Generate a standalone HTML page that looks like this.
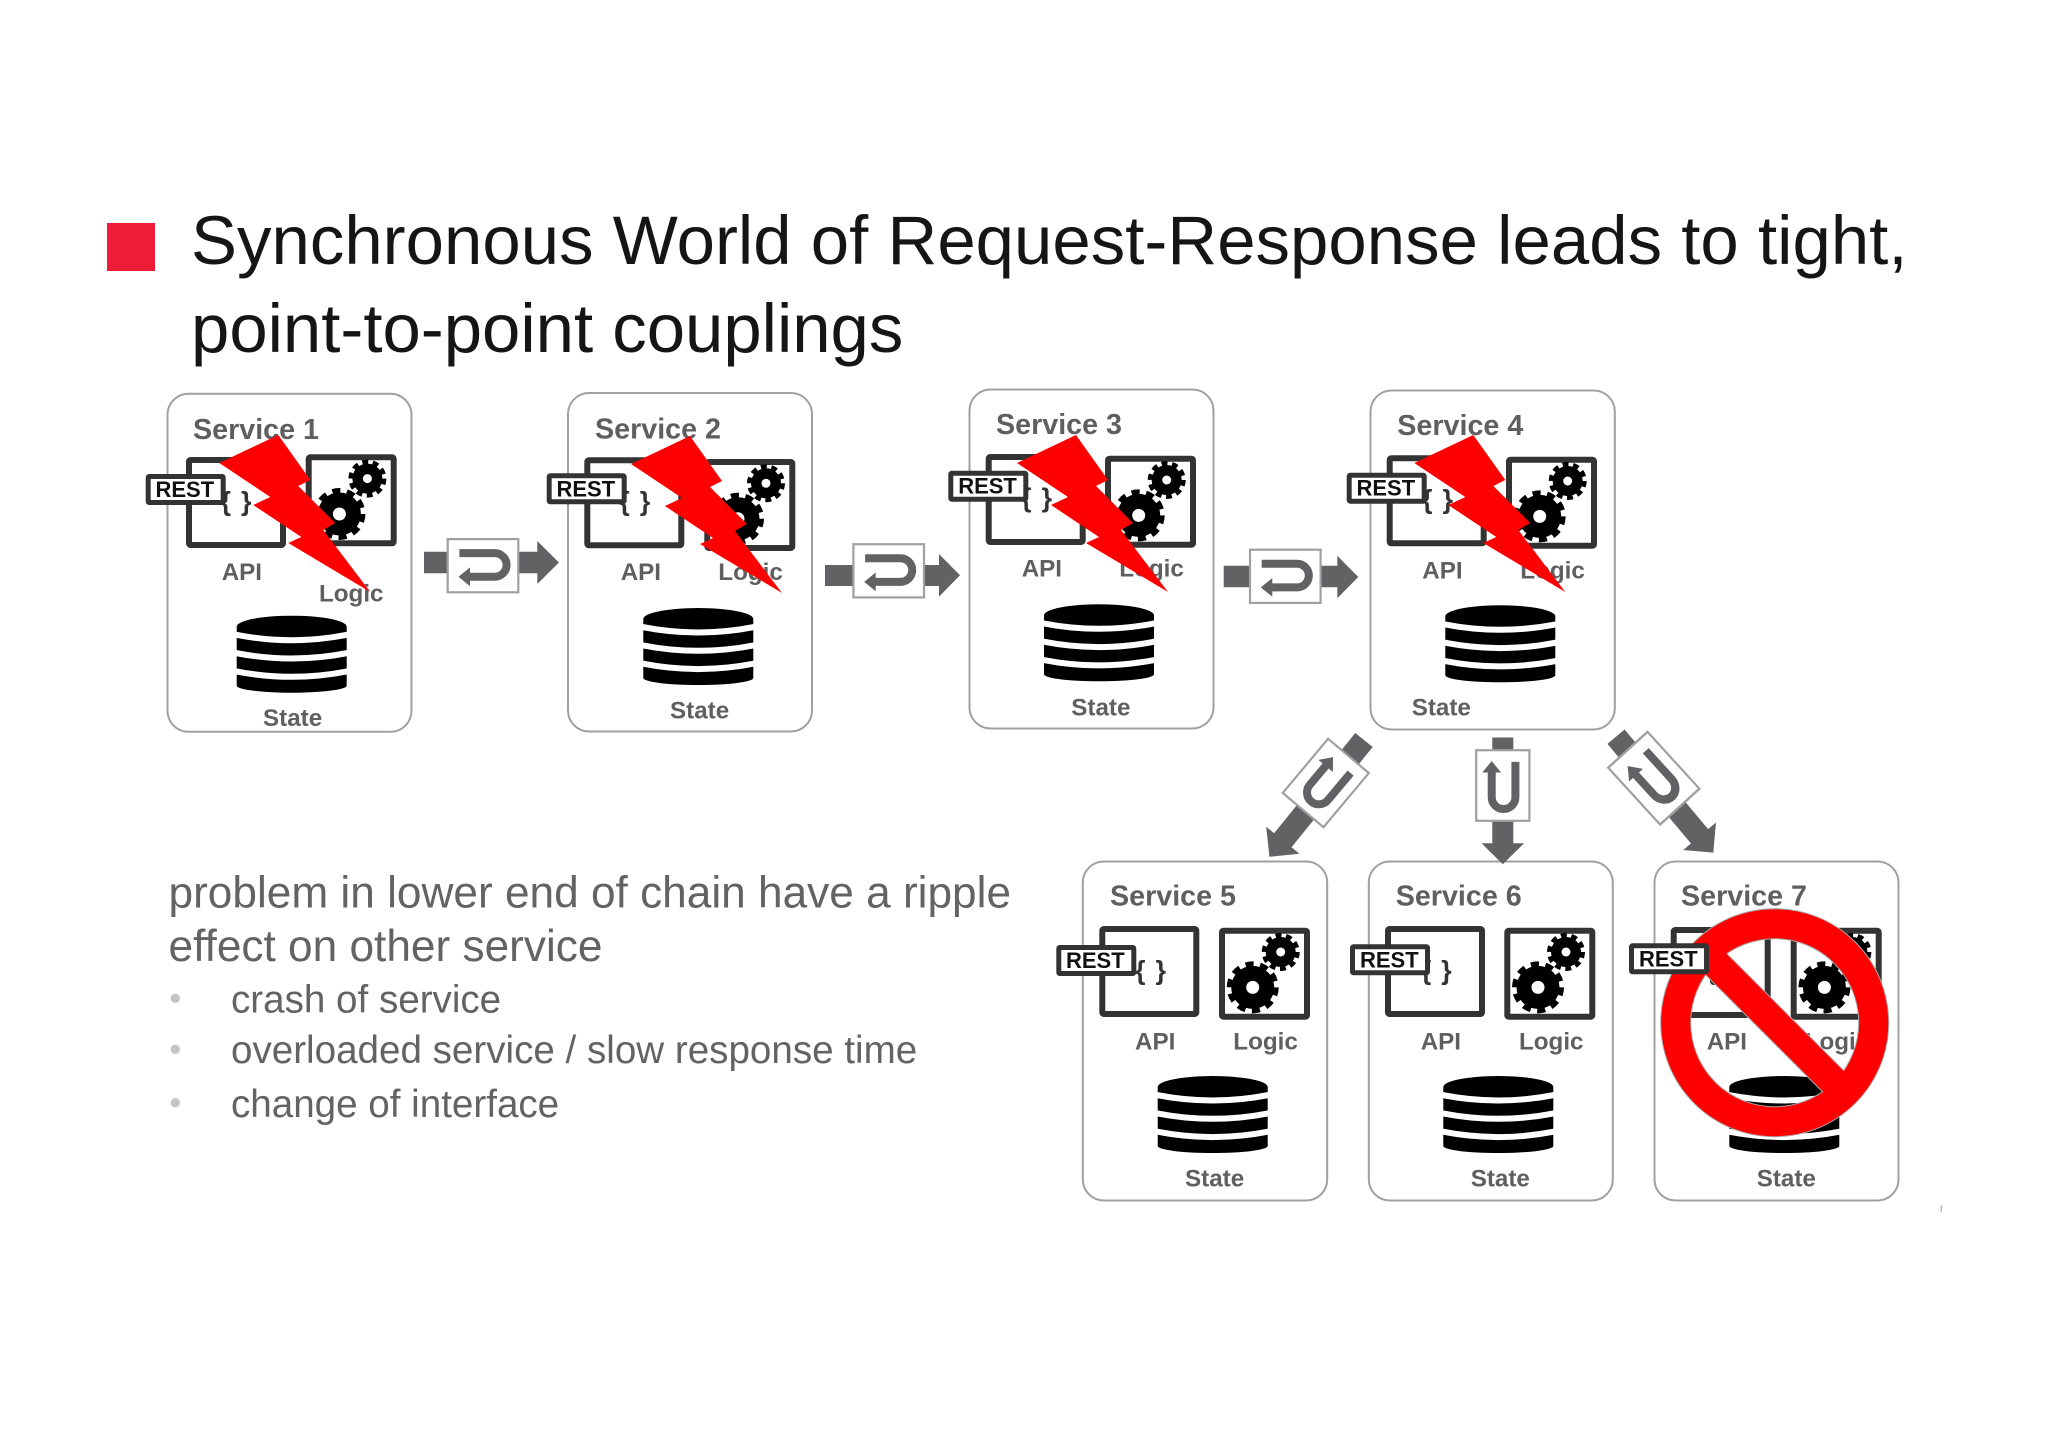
<!DOCTYPE html>
<html><head><meta charset="utf-8"><style>
html,body{margin:0;padding:0;background:#fff}
svg{display:block}
text{font-family:"Liberation Sans",sans-serif}
.t{font-weight:bold;font-size:28.7px;fill:#5f5f62}
.l{font-weight:bold;font-size:24.2px;fill:#5f5f62}
.r{font-weight:bold;font-size:22px;fill:#111}
.b{font-size:27px;font-weight:bold;fill:#333}
.h{font-size:68.9px;fill:#151515}
.p{font-size:44.2px;fill:#636366}
.q{font-size:38.6px;fill:#636366}
.box{fill:#fff;stroke:#a0a0a0;stroke-width:2}
</style></head><body>
<svg width="2048" height="1447" viewBox="0 0 2048 1447" xmlns="http://www.w3.org/2000/svg">
<defs>
<g id="api"><rect x="3" y="3" width="94" height="85" rx="1.5" fill="#fff" stroke="#333" stroke-width="6"/></g>
<g id="logic"><rect x="3" y="3" width="85" height="86" rx="1.5" fill="#fff" stroke="#333" stroke-width="6"/>
<circle cx="33.7" cy="59.7" r="21.5" fill="#000"/><circle cx="33.7" cy="59.7" r="23" fill="none" stroke="#000" stroke-width="6" stroke-dasharray="8 6.45"/><circle cx="33.7" cy="59.7" r="6.5" fill="#fff"/>
<circle cx="61.7" cy="24.3" r="15" fill="#000"/><circle cx="61.7" cy="24.3" r="16.5" fill="none" stroke="#000" stroke-width="5" stroke-dasharray="5.8 4.57"/><circle cx="61.7" cy="24.3" r="4.5" fill="#fff"/></g>
<g id="restbox"><rect x="2.5" y="2.5" width="75" height="26" rx="1" fill="#fff" stroke="#333" stroke-width="5"/></g>
<g id="db"><path d="M0 11A55 11 0 0 1 110 11V70A55 7 0 0 1 0 70Z" fill="#000"/>
<path d="M-1 19Q55 30 111 19M-1 37.3Q55 48.3 111 37.3M-1 55.6Q55 66.6 111 55.6" fill="none" stroke="#fff" stroke-width="6"/></g>
<g id="bolt"><polygon points="0,0 32,45 20,51 57,88 45,95 92,157 10,108 23,102 -25,70 -8,62 -59,28" fill="#f00"/></g>
<g id="frame"><rect x="-35.3" y="-26.6" width="70.6" height="53.2" fill="#fff" stroke="#a0a0a0" stroke-width="2.2"/>
<path d="M-23.6 -12.6H11.7A11.85 11.85 0 0 1 11.7 11.1H-14" fill="none" stroke="#626264" stroke-width="8"/>
<polygon points="-24.5,11.1 -13,1.7 -13,20.5" fill="#626264"/></g>
</defs>
<rect width="2048" height="1447" fill="#fff"/>

<rect x="107" y="223" width="48" height="48" fill="#ee1c36"/>
<text class="h" x="191" y="264" textLength="1716.5">Synchronous World of Request-Response leads to tight,</text>
<text class="h" x="191" y="352">point-to-point couplings</text>

<text class="p" x="168.5" y="907.5">problem in lower end of chain have a ripple</text>
<text class="p" x="168.5" y="961">effect on other service</text>
<circle cx="175.3" cy="998.3" r="4.7" fill="#c4c4c6"/>
<circle cx="175.3" cy="1049.3" r="4.7" fill="#c4c4c6"/>
<circle cx="175.3" cy="1102.7" r="4.7" fill="#c4c4c6"/>
<text class="q" x="231" y="1012.7">crash of service</text>
<text class="q" x="231" y="1063">overloaded service / slow response time</text>
<text class="q" x="231" y="1117">change of interface</text>

<!-- Service 1 -->
<rect class="box" x="167.5" y="393.8" width="244" height="338" rx="21"/>
<text class="t" x="193" y="439">Service 1</text>
<use href="#api" x="186" y="457"/><use href="#logic" x="305.7" y="454.3"/>
<text class="b" x="220.5" y="510.5" textLength="31">{ }</text>
<use href="#restbox" x="145.7" y="474"/><text class="r" x="155.5" y="497">REST</text>
<text class="l" x="221.7" y="580">API</text><text class="l" x="319" y="601.7">Logic</text>
<use href="#db" x="236.7" y="615.7"/><text class="l" x="263" y="726">State</text>
<use href="#bolt" x="278.3" y="435"/>

<!-- Service 2 -->
<rect class="box" x="568" y="393" width="244" height="338.5" rx="21"/>
<text class="t" x="595" y="438.5">Service 2</text>
<use href="#api" x="584.3" y="457.3"/><use href="#logic" x="704.3" y="459"/>
<text class="b" x="619.3" y="510.5" textLength="31">{ }</text>
<use href="#restbox" x="546.7" y="473.3"/><text class="r" x="556.5" y="496.3">REST</text>
<text class="l" x="620.7" y="580">API</text><text class="l" x="718.3" y="580">Logic</text>
<use href="#db" x="643.3" y="608"/><text class="l" x="670" y="718.5">State</text>
<use href="#bolt" x="690" y="436"/>

<!-- Service 3 -->
<rect class="box" x="969.5" y="389.5" width="244" height="339" rx="21"/>
<text class="t" x="996" y="434">Service 3</text>
<use href="#api" x="985.7" y="454"/><use href="#logic" x="1105" y="455.7"/>
<text class="b" x="1021" y="507" textLength="31">{ }</text>
<use href="#restbox" x="948.3" y="470.7"/><text class="r" x="958.2" y="493.7">REST</text>
<text class="l" x="1021.7" y="576.7">API</text><text class="l" x="1119.3" y="576.7">Logic</text>
<use href="#db" x="1044" y="604.3"/><text class="l" x="1071.3" y="715.3">State</text>
<use href="#bolt" x="1076" y="435"/>

<!-- Service 4 -->
<rect class="box" x="1370.5" y="390.5" width="244.3" height="339" rx="21"/>
<text class="t" x="1397.3" y="435">Service 4</text>
<use href="#api" x="1386.7" y="455.3"/><use href="#logic" x="1506" y="456.7"/>
<text class="b" x="1422" y="508.5" textLength="31">{ }</text>
<use href="#restbox" x="1346.7" y="472.7"/><text class="r" x="1356.5" y="495.7">REST</text>
<text class="l" x="1422.3" y="578.3">API</text><text class="l" x="1520.3" y="578.3">Logic</text>
<use href="#db" x="1445.3" y="605.3"/><text class="l" x="1411.7" y="715.3">State</text>
<use href="#bolt" x="1473.3" y="435"/>

<!-- Service 5 -->
<rect class="box" x="1082.8" y="861.5" width="244.4" height="339" rx="21"/>
<text class="t" x="1110" y="905.7">Service 5</text>
<use href="#api" x="1099.3" y="926"/><use href="#logic" x="1219" y="927.7"/>
<text class="b" x="1135" y="979.5" textLength="31">{ }</text>
<use href="#restbox" x="1056.3" y="945"/><text class="r" x="1066" y="968">REST</text>
<text class="l" x="1135" y="1049.3">API</text><text class="l" x="1233.3" y="1049.3">Logic</text>
<use href="#db" x="1157.7" y="1076"/><text class="l" x="1185" y="1186.3">State</text>

<!-- Service 6 -->
<rect class="box" x="1368.8" y="861.5" width="244" height="339" rx="21"/>
<text class="t" x="1395.7" y="905.7">Service 6</text>
<use href="#api" x="1385" y="926"/><use href="#logic" x="1504.3" y="927.7"/>
<text class="b" x="1420.7" y="979.5" textLength="31">{ }</text>
<use href="#restbox" x="1350" y="944.3"/><text class="r" x="1360" y="967.3">REST</text>
<text class="l" x="1420.7" y="1049.3">API</text><text class="l" x="1519" y="1049.3">Logic</text>
<use href="#db" x="1443.3" y="1076"/><text class="l" x="1470.7" y="1186.3">State</text>

<!-- Service 7 -->
<rect class="box" x="1654.5" y="861.5" width="244" height="339" rx="21"/>
<text class="t" x="1681" y="905.7">Service 7</text>
<use href="#api" x="1670.7" y="927"/><use href="#logic" x="1790.7" y="927.7"/>
<text class="b" x="1706.5" y="979.5" textLength="31">{ }</text>
<text class="l" x="1706.7" y="1049.3">API</text><text class="l" x="1804.7" y="1049.3">Logic</text>
<use href="#db" x="1729.3" y="1076"/><text class="l" x="1756.7" y="1186.5">State</text>
<g fill="none">
<circle cx="1774.7" cy="1022.7" r="99" stroke="#a8a8a8" stroke-width="31"/>
<line x1="1715" y1="963" x2="1834" y2="1082" stroke="#a8a8a8" stroke-width="31"/>
<circle cx="1774.7" cy="1022.7" r="99" stroke="#f00" stroke-width="29"/>
<line x1="1705" y1="953" x2="1844" y2="1092" stroke="#f00" stroke-width="29"/>
</g>
<use href="#restbox" x="1629" y="943.3"/><text class="r" x="1639" y="966.3">REST</text>

<!-- Horizontal connectors -->
<g fill="#626264">
<polygon points="424,551.7 448,551.7 448,573.3 424,573.3"/><polygon points="518,551.7 537.3,551.7 537.3,541 559,562.5 537.3,584 537.3,573.3 518,573.3"/>
<polygon points="825,565 854,565 854,586 825,586"/><polygon points="924,565 939,565 939,554 960,575.3 939,596.7 939,586 924,586"/>
<polygon points="1223.7,565.7 1250,565.7 1250,587.3 1223.7,587.3"/><polygon points="1320,565.7 1337.3,565.7 1337.3,555.7 1358.3,577 1337.3,598.3 1337.3,587.3 1320,587.3"/>
</g>
<use href="#frame" x="483" y="565.7"/>
<use href="#frame" x="888.7" y="570.8"/>
<use href="#frame" x="1285.3" y="576.3"/>

<!-- Down connectors -->
<g transform="translate(1502.8 785.5) rotate(90)">
<polygon points="-48,-10.5 -34,-10.5 -34,10.5 -48,10.5" fill="#626264"/>
<polygon points="34,-10.5 57.8,-10.5 57.8,-21.3 78.8,0 57.8,21.3 57.8,10.5 34,10.5" fill="#626264"/>
<use href="#frame"/>
</g>
<g transform="translate(1364 740) rotate(129)">
<polygon points="0,-11.2 129,-11.2 129,-21.4 150.3,0 129,21.4 129,11.2 0,11.2" fill="#626264"/>
</g>
<g transform="translate(1325.8 783) rotate(130)"><use href="#frame"/></g>
<g transform="translate(1616 736.7) rotate(50)">
<polygon points="0,-11.2 130,-11.2 130,-21.4 151.4,0 130,21.4 130,11.2 0,11.2" fill="#626264"/>
</g>
<g transform="translate(1653.8 778.2) rotate(47.6) scale(1.09 1)"><use href="#frame"/></g>

<rect x="1940.5" y="1205" width="1.5" height="7" fill="#bbb"/>
</svg>
</body></html>
